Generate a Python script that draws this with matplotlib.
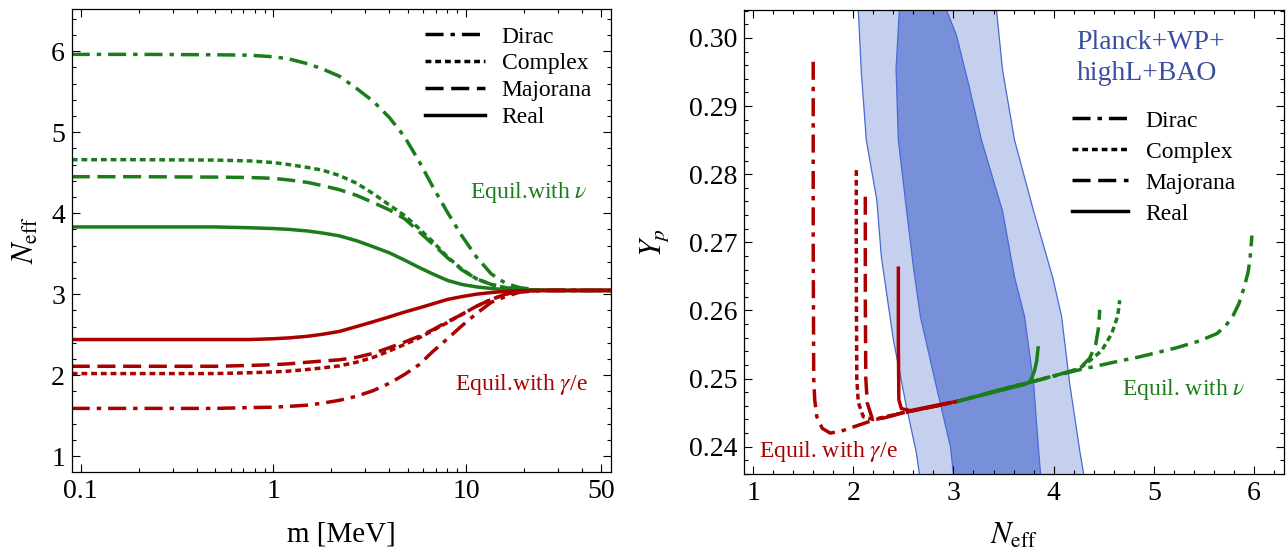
import matplotlib
matplotlib.use('Agg')
import matplotlib.pyplot as plt
from matplotlib.lines import Line2D
from matplotlib.ticker import FixedLocator, MultipleLocator, FormatStrFormatter, NullFormatter

plt.rcParams['font.family'] = ['Liberation Serif', 'DejaVu Serif']
plt.rcParams['mathtext.fontset'] = 'stix'
plt.rcParams['lines.scale_dashes'] = False

GREEN = '#1a7d1a'
RED = '#aa0000'
BLUE_TEXT = '#3a4f9e'
LIGHT = '#c5d0ee'
DARK = '#7890da'
EDGE = '#4a6ad0'

# ---------------- left panel data: N_eff vs m [MeV] ----------------
mass = [0.09, 0.2, 0.5, 0.75, 1.0, 1.2, 1.5, 1.8, 2.2, 2.7, 3.3, 4.0,
        4.8, 5.7, 6.7, 8.0, 9.5, 11.3, 13.5, 16, 19, 23, 30, 56]
nu_dirac    = [5.96, 5.96, 5.955, 5.95, 5.93, 5.905, 5.845, 5.78, 5.69, 5.54, 5.38, 5.18,
               4.94, 4.64, 4.33, 4.01, 3.72, 3.46, 3.25, 3.135, 3.08, 3.055, 3.047, 3.046]
nu_complex  = [4.66, 4.66, 4.655, 4.645, 4.625, 4.60, 4.565, 4.53, 4.465, 4.37, 4.24, 4.10,
               3.97, 3.81, 3.65, 3.46, 3.31, 3.19, 3.12, 3.08, 3.06, 3.05, 3.046, 3.046]
nu_majorana = [4.45, 4.45, 4.445, 4.44, 4.43, 4.41, 4.38, 4.34, 4.29, 4.22, 4.13, 4.04,
               3.93, 3.77, 3.62, 3.45, 3.30, 3.19, 3.12, 3.08, 3.06, 3.05, 3.046, 3.046]
nu_real     = [3.83, 3.83, 3.83, 3.82, 3.81, 3.80, 3.78, 3.755, 3.72, 3.66, 3.585, 3.51,
               3.42, 3.33, 3.25, 3.17, 3.12, 3.09, 3.07, 3.055, 3.05, 3.047, 3.046, 3.046]
ge_real     = [2.44, 2.44, 2.44, 2.44, 2.45, 2.46, 2.48, 2.505, 2.54, 2.60, 2.66, 2.72,
               2.78, 2.83, 2.88, 2.935, 2.97, 3.00, 3.02, 3.035, 3.042, 3.045, 3.046, 3.046]
ge_majorana = [2.11, 2.11, 2.11, 2.12, 2.13, 2.14, 2.16, 2.175, 2.19, 2.22, 2.27, 2.34,
               2.41, 2.48, 2.56, 2.66, 2.75, 2.85, 2.935, 3.00, 3.035, 3.045, 3.046, 3.046]
ge_complex  = [2.02, 2.02, 2.02, 2.03, 2.04, 2.05, 2.07, 2.09, 2.115, 2.16, 2.22, 2.30,
               2.38, 2.46, 2.55, 2.65, 2.75, 2.85, 2.935, 3.00, 3.035, 3.045, 3.046, 3.046]
ge_dirac    = [1.59, 1.59, 1.59, 1.60, 1.605, 1.615, 1.63, 1.655, 1.69, 1.74, 1.81, 1.90,
               2.01, 2.13, 2.29, 2.45, 2.61, 2.76, 2.90, 2.97, 3.025, 3.04, 3.046, 3.046]

# ---------------- right panel data: Y_p vs N_eff ----------------
r_dirac_N = [1.60, 1.60, 1.605, 1.615, 1.636, 1.69, 1.77, 1.88, 2.00, 2.20, 2.50, 2.80, 3.05]
r_dirac_Y = [0.2965, 0.270, 0.250, 0.2469, 0.2444, 0.2427, 0.2420, 0.2423, 0.2429, 0.2439, 0.2450, 0.2459, 0.2467]
r_complex_N = [2.03, 2.03, 2.035, 2.05, 2.10, 2.20, 2.50, 2.80, 3.05]
r_complex_Y = [0.2806, 0.265, 0.250, 0.2465, 0.2444, 0.2440, 0.2450, 0.2459, 0.2467]
r_majorana_N = [2.12, 2.12, 2.125, 2.14, 2.19, 2.30, 2.50, 2.80, 3.05]
r_majorana_Y = [0.2767, 0.262, 0.250, 0.2464, 0.2441, 0.2442, 0.2450, 0.2459, 0.2467]
r_real_N = [2.45, 2.45, 2.455, 2.48, 2.57, 2.80, 3.05]
r_real_Y = [0.2662, 0.255, 0.2469, 0.2456, 0.2453, 0.2460, 0.2467]

g_real_N = [3.05, 3.40, 3.70, 3.76, 3.785, 3.81, 3.83, 3.845]
g_real_Y = [0.2467, 0.2480, 0.2491, 0.2495, 0.2502, 0.2512, 0.2525, 0.2545]
g_majorana_N = [3.05, 3.50, 3.80, 4.10, 4.26, 4.36, 4.42, 4.45, 4.46]
g_majorana_Y = [0.2467, 0.2485, 0.2496, 0.2508, 0.2515, 0.2530, 0.2550, 0.2576, 0.2601]
g_complex_N = [3.05, 3.50, 3.80, 4.10, 4.25, 4.35, 4.48, 4.58, 4.64, 4.66]
g_complex_Y = [0.2467, 0.2485, 0.2496, 0.2508, 0.2514, 0.2525, 0.2541, 0.2566, 0.2592, 0.2615]
g_dirac_N = [3.05, 3.50, 3.80, 4.23, 4.60, 4.86, 5.22, 5.45, 5.63, 5.72, 5.79, 5.85, 5.90, 5.94, 5.96, 5.98]
g_dirac_Y = [0.2467, 0.2485, 0.2496, 0.2512, 0.2524, 0.2532, 0.2545, 0.2555, 0.2566, 0.2578,
             0.2592, 0.2610, 0.2633, 0.2655, 0.2674, 0.2710]

# Planck contours (boundary points)
outer_left_N = [2.03, 2.05, 2.08, 2.13, 2.235, 2.28, 2.40, 2.53, 2.63, 2.66, 2.72]
outer_left_Y = [0.312, 0.3041, 0.2950, 0.2850, 0.2762, 0.2679, 0.2557, 0.2459, 0.2391, 0.2360, 0.230]
outer_right_N = [3.41, 3.43, 3.49, 3.61, 3.80, 3.99, 4.08, 4.16, 4.26, 4.30, 4.33]
outer_right_Y = [0.312, 0.3041, 0.2953, 0.2850, 0.2746, 0.2649, 0.2591, 0.2493, 0.2395, 0.2360, 0.230]
inner_left_N = [2.47, 2.46, 2.427, 2.45, 2.52, 2.60, 2.67, 2.83, 2.97, 3.00, 3.05]
inner_left_Y = [0.312, 0.3041, 0.2955, 0.2850, 0.2762, 0.2664, 0.2591, 0.2488, 0.2400, 0.2360, 0.230]
inner_right_N = [2.90, 2.93, 3.03, 3.16, 3.28, 3.49, 3.61, 3.71, 3.80, 3.85, 3.87, 3.89]
inner_right_Y = [0.312, 0.3041, 0.3004, 0.2927, 0.2850, 0.2746, 0.2649, 0.2591, 0.2493, 0.2395, 0.2360, 0.230]

labels = ['Dirac', 'Complex', 'Majorana', 'Real']
styles = {'Dirac': (0, (13, 5, 3.2, 5)),
          'Complex': (0, (4.2, 2.8)),
          'Majorana': (0, (13, 5.5)),
          'Real': '-'}
LW = 2.5

fig = plt.figure(figsize=(12.86, 5.5), dpi=100)
ax1 = fig.add_axes([72/1286, 78/550, 539/1286, 463/550])
ax2 = fig.add_axes([744/1286, 76/550, 540/1286, 464/550])

# ---- left ----
left_series = [(nu_dirac, 'Dirac', GREEN), (nu_complex, 'Complex', GREEN),
               (nu_majorana, 'Majorana', GREEN), (nu_real, 'Real', GREEN),
               (ge_dirac, 'Dirac', RED), (ge_complex, 'Complex', RED),
               (ge_majorana, 'Majorana', RED), (ge_real, 'Real', RED)]
for vals, kind, col in left_series:
    ax1.plot(mass, vals, color=col, lw=LW, linestyle=styles[kind])

ax1.set_xscale('log')
ax1.set_xlim(0.0903, 56.4)
ax1.set_ylim(0.805, 6.52)
ax1.set_xticks([0.1, 1, 10, 50])
ax1.set_xticklabels(['0.1', '1', '10', '50'])
minors = [0.2, 0.3, 0.4, 0.5, 0.6, 0.7, 0.8, 0.9, 2, 3, 4, 5, 6, 7, 8, 9, 20, 30, 40]
ax1.xaxis.set_minor_locator(FixedLocator(minors))
ax1.xaxis.set_minor_formatter(NullFormatter())
ax1.yaxis.set_major_locator(MultipleLocator(1))
ax1.yaxis.set_minor_locator(MultipleLocator(0.2))
ax1.text(43, 4.25, r'Equil.with $\nu$', color=GREEN, ha='right', va='center', fontsize=17)
ax1.text(43, 1.89, r'Equil.with $\gamma$/e', color=RED, ha='right', va='center', fontsize=17)
ax1.set_xlabel('m [MeV]', fontsize=21)
ax1.xaxis.set_label_coords(0.5, -0.136)
ax1.xaxis.label.set_va('center')
ax1.set_ylabel(r'$N_{\rm eff}$', fontsize=22)
ax1.yaxis.set_label_coords(-0.085, 0.5)
ax1.yaxis.label.set_va('center')

handles = [Line2D([], [], color='black', lw=LW, linestyle=styles[k]) for k in labels]
ax1.legend(handles, labels, loc='upper left', bbox_to_anchor=(0.655, 0.963),
           frameon=False, fontsize=17, handlelength=2.54, handletextpad=0.71,
           labelspacing=0.22, borderpad=0, borderaxespad=0)

# ---- right ----
ax2.fill(outer_left_N + outer_right_N[::-1], outer_left_Y + outer_right_Y[::-1],
         facecolor=LIGHT, edgecolor='none', zorder=1)
ax2.fill(inner_left_N + inner_right_N[::-1], inner_left_Y + inner_right_Y[::-1],
         facecolor=DARK, edgecolor='none', zorder=1.1)
for xs, ys in [(outer_left_N, outer_left_Y), (outer_right_N, outer_right_Y),
               (inner_left_N, inner_left_Y), (inner_right_N, inner_right_Y)]:
    ax2.plot(xs, ys, color=EDGE, lw=0.9, zorder=1.2)

right_series = [(r_dirac_N, r_dirac_Y, 'Dirac', RED), (r_complex_N, r_complex_Y, 'Complex', RED),
                (r_majorana_N, r_majorana_Y, 'Majorana', RED), (r_real_N, r_real_Y, 'Real', RED),
                (g_dirac_N, g_dirac_Y, 'Dirac', GREEN), (g_complex_N, g_complex_Y, 'Complex', GREEN),
                (g_majorana_N, g_majorana_Y, 'Majorana', GREEN), (g_real_N, g_real_Y, 'Real', GREEN)]
for xs, ys, kind, col in right_series:
    ax2.plot(xs, ys, color=col, lw=LW, linestyle=styles[kind], zorder=3)

ax2.set_xlim(0.909, 6.30)
ax2.set_ylim(0.2360, 0.3041)
ax2.xaxis.set_major_locator(MultipleLocator(1))
ax2.xaxis.set_minor_locator(MultipleLocator(0.2))
ax2.yaxis.set_major_locator(MultipleLocator(0.01))
ax2.yaxis.set_minor_locator(MultipleLocator(0.002))
ax2.yaxis.set_major_formatter(FormatStrFormatter('%.2f'))
ax2.text(4.23, 0.29938, 'Planck+WP+', color=BLUE_TEXT, ha='left', va='center', fontsize=20)
ax2.text(4.23, 0.29474, 'highL+BAO', color=BLUE_TEXT, ha='left', va='center', fontsize=20)
ax2.text(4.68, 0.24836, r'Equil. with $\nu$', color=GREEN, ha='left', va='center', fontsize=17)
ax2.text(1.063, 0.23934, r'Equil. with $\gamma$/e', color=RED, ha='left', va='center', fontsize=17)
ax2.set_xlabel(r'$N_{\rm eff}$', fontsize=22)
ax2.xaxis.set_label_coords(0.5, -0.133)
ax2.xaxis.label.set_va('center')
ax2.set_ylabel(r'$Y_p$', fontsize=22)
ax2.yaxis.set_label_coords(-0.165, 0.5)
ax2.yaxis.label.set_va('center')

handles2 = [Line2D([], [], color='black', lw=LW, linestyle=styles[k]) for k in labels]
ax2.legend(handles2, labels, loc='upper left', bbox_to_anchor=(0.608, 0.784),
           frameon=False, fontsize=17, handlelength=2.36, handletextpad=0.75,
           labelspacing=0.4, borderpad=0, borderaxespad=0)

for ax in (ax1, ax2):
    for sp in ax.spines.values():
        sp.set_linewidth(0.9)
    ax.tick_params(which='both', direction='in', top=True, right=True, width=0.8,
                   labelsize=20, pad=5)
    ax.tick_params(which='major', length=5.5)
    ax.tick_params(which='minor', length=3)

fig.savefig('out.png', dpi=100)
